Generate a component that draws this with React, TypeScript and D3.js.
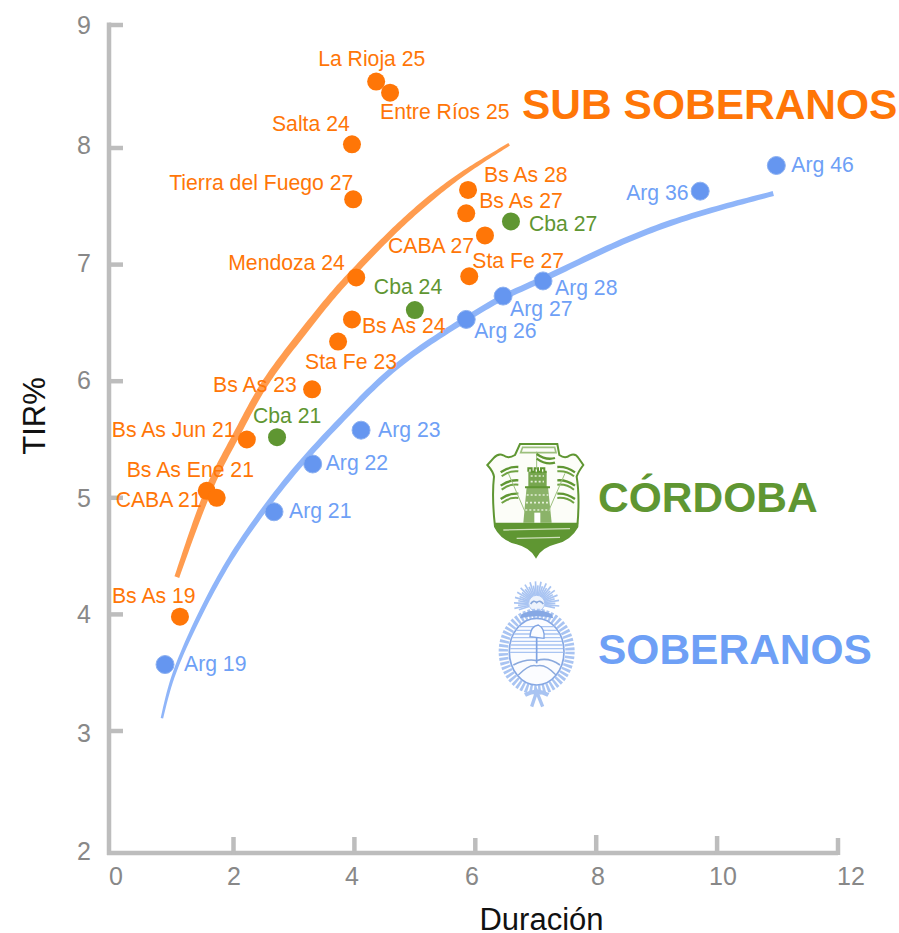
import React, { useEffect, useRef } from "react";
import * as d3 from "d3";

const xTicks = [0, 2, 4, 6, 8, 10, 12];
const yTicks = [2, 3, 4, 5, 6, 7, 8, 9];
// tick labels sit a little away from their ticks in the original
const xLabelCenters = [116, 234, 352, 472, 598, 723, 851];
const yLabelCenters = [851, 733, 614, 498, 380, 263, 145, 25];
const xTickHeights = [0, 16, 16, 15, 18, 17, 15];

const subNames = ["La Rioja 25", "Entre Ríos 25", "Salta 24", "Tierra del Fuego 27", "Bs As 28", "Bs As 27", "CABA 27", "Sta Fe 27", "Mendoza 24", "Bs As 24", "Sta Fe 23", "Bs As 23", "Bs As Jun 21", "Bs As Ene 21", "CABA 21", "Bs As 19"];
const subX = [4.36, 4.59, 3.96, 3.98, 5.88, 5.85, 6.16, 5.9, 4.03, 3.96, 3.73, 3.3, 2.22, 1.57, 1.73, 1.14];
const subY = [8.54, 8.45, 8.03, 7.56, 7.64, 7.44, 7.25, 6.9, 6.89, 6.53, 6.34, 5.93, 5.5, 5.06, 5.0, 3.98];

const cbaNames = ["Cba 27", "Cba 24", "Cba 21"];
const cbaX = [6.59, 5.0, 2.72];
const cbaY = [7.37, 6.61, 5.52];

const argNames = ["Arg 46", "Arg 36", "Arg 28", "Arg 27", "Arg 26", "Arg 23", "Arg 22", "Arg 21", "Arg 19"];
const argX = [10.98, 9.72, 7.12, 6.46, 5.85, 4.11, 3.31, 2.67, 0.9];
const argY = [7.85, 7.63, 6.86, 6.73, 6.53, 5.58, 5.29, 4.88, 3.57];

const subCurveX = [1.09, 1.46, 1.735, 2.07, 2.49, 3.05, 3.6, 4.01, 4.7, 5.25, 5.8, 6.56];
const subCurveY = [4.32, 4.895, 5.24, 5.555, 5.985, 6.355, 6.72, 6.95, 7.32, 7.57, 7.79, 8.03];
const argCurveX = [0.85, 0.98, 1.19, 1.51, 1.945, 2.49, 3.1, 3.93, 4.7, 5.86, 6.46, 7.12, 8.28, 9.39, 10.93];
const argCurveY = [3.11, 3.41, 3.695, 4.06, 4.49, 4.895, 5.3, 5.75, 6.16, 6.54, 6.73, 6.87, 7.17, 7.4, 7.61];

// label placement (offset of text start and baseline from the point)
const subOffsets = [[-58, -16], [-10, 26], [-80, -13], [-184, -9], [16, -8], [13, -5], [-97, 18], [3, -8], [-128, -7], [10, 14], [-33, 27], [-99, 3], [-135, -3], [-80, -14], [-101, 9], [-68, -14]];
const cbaOffsets = [[18, 10], [-41, -16], [-24, -14]];
const argOffsets = [[15, 7], [-74, 9], [12, 14], [7, 20], [8, 19], [17, 7], [13, 6], [15, 6], [19, 6]];

const ORANGE = "#ff7607";
const ORANGE_LINE = "#ff9c4f";
const GREEN = "#5f9632";
const BLUE = "#6ea0f6";
const BLUE_DOT = "#6596f0";
const BLUE_LINE = "#8fb5f9";
const GREEN_L = "#9cc07d";
const BLUE_L = "#a9c4f2";
const FONT = "'Liberation Sans', Arial, sans-serif";

const xScale = d3.scaleLinear().domain([0, 2, 12]).range([109, 233.5, 838]);
const yScale = d3.scaleLinear().domain([2, 3, 8, 9]).range([853, 731, 148, 25]);

function Ribbon({ xs, ys, widths, color }: { xs: number[]; ys: number[]; widths: number[]; color: string }) {
  const ref = useRef<SVGPathElement>(null);
  useEffect(() => {
    const pts = xs.map((x, i) => [xScale(x), yScale(ys[i])] as [number, number]);
    const d = d3.line().curve(d3.curveBasis)(pts) as string;
    const probe = document.createElementNS("http://www.w3.org/2000/svg", "path");
    probe.setAttribute("d", d);
    const len = probe.getTotalLength();
    const wScale = d3.scaleLinear().domain(widths.map((_, i) => i / (widths.length - 1))).range(widths);
    const left: [number, number][] = [];
    const right: [number, number][] = [];
    const n = 160;
    d3.range(n + 1).forEach((i) => {
      const t = i / n;
      const p = probe.getPointAtLength(t * len);
      const a = probe.getPointAtLength(Math.max(0, t * len - 1));
      const b = probe.getPointAtLength(Math.min(len, t * len + 1));
      const dx = b.x - a.x, dy = b.y - a.y, m = Math.hypot(dx, dy) || 1;
      const w = wScale(t) / 2;
      left.push([p.x - (dy / m) * w, p.y + (dx / m) * w]);
      right.push([p.x + (dy / m) * w, p.y - (dx / m) * w]);
    });
    const poly = d3.line()([...left, ...right.reverse()]) + "Z";
    d3.select(ref.current).attr("d", poly);
  }, []);
  return <path ref={ref} fill={color} />;
}

function Series({ names, xs, ys, offsets, dot, text, halo }: any) {
  return (
    <g>
      {names.map((_: string, i: number) => (
        <circle key={i} cx={xScale(xs[i])} cy={yScale(ys[i])} r={9} fill={dot} stroke={halo} strokeWidth={halo ? 1 : 0} filter={halo ? "url(#dotblur)" : undefined} />
      ))}
      {names.map((n: string, i: number) => (
        <text key={n} x={xScale(xs[i]) + offsets[i][0]} y={yScale(ys[i]) + offsets[i][1]} fill={text} fontSize={21.2} fontFamily={FONT}>{n}</text>
      ))}
    </g>
  );
}

function CordobaLogo() {
  const outline = "M150,42 L262,42 L268,75 Q285,88 300,76 Q316,68 326,85 L340,105 Q325,125 320,140 Q330,200 322,290 Q300,330 255,340 Q215,350 198,380 Q180,350 140,340 Q95,330 75,290 Q65,200 72,140 Q70,125 52,105 L70,85 Q85,68 100,76 Q115,88 135,75 Z";
  const flagsY = [115, 155, 195];
  return (
    <g transform="translate(470,430) scale(0.3333)" filter="url(#soft)">
      <path d={outline} fill="#fcfdf8" stroke={GREEN} strokeWidth={6} />
      <path d="M158,52 L254,52 L258,68 L152,68 Z" fill="none" stroke={GREEN_L} strokeWidth={5} />
      <path d="M72,278 L325,278 L322,292 Q300,330 255,340 Q215,350 198,380 Q180,350 140,340 Q95,330 75,292 Z" fill={GREEN} />
      <path d="M100,300 L300,296 M140,325 L270,322" stroke="#cfe0bb" strokeWidth={4} fill="none" />
      <path d="M160,278 L170,170 L234,170 L245,278 Z" fill={GREEN} opacity={0.72} />
      <rect x={175} y={125} width={55} height={48} fill={GREEN} opacity={0.85} />
      <path d="M175,125 v-10 h10 v10 h9 v-10 h10 v10 h9 v-10 h10 v10 h7 M165,172 h75" stroke={GREEN} strokeWidth={6} fill="none" />
      <path d="M170,195 h65 M168,218 h70 M166,240 h74 M182,138 h40 M182,155 h40" stroke="#e4efd8" strokeWidth={5} strokeDasharray="6 6" />
      <rect x={193} y={248} width={18} height={30} fill="#fff" />
      <path d="M200,118 V65" stroke={GREEN_L} strokeWidth={3} />
      <path d="M200,72 Q228,92 255,84" stroke={GREEN} strokeWidth={7} fill="none" />
      <path d="M200,86 Q228,106 255,98" stroke={GREEN} strokeWidth={7} fill="none" />
      {flagsY.map((y) => (
        <g key={y}>
          <path d={`M92,${y + 12} Q118,${y - 6} 145,${y - 4}`} stroke={GREEN} strokeWidth={7} fill="none" />
          <path d={`M95,${y + 24} Q118,${y + 6} 145,${y + 9}`} stroke="#6fa243" strokeWidth={6} fill="none" />
          <path d={`M262,${y - 4} Q290,${y - 6} 315,${y + 12}`} stroke={GREEN} strokeWidth={7} fill="none" />
          <path d={`M262,${y + 9} Q290,${y + 6} 312,${y + 24}`} stroke="#6fa243" strokeWidth={6} fill="none" />
        </g>
      ))}
      <path d="M165,245 L115,130 M235,245 L285,130" stroke={GREEN_L} strokeWidth={3} />
    </g>
  );
}

function ArgentinaLogo() {
  const rays = d3.range(-108, 109, 7);
  const stripes = d3.range(590, 668, 11);
  return (
    <g transform="translate(470,430) scale(0.3333)" filter="url(#soft)">
      {rays.map((a, i) => {
        const r = (a * Math.PI) / 180;
        const len = i % 2 ? 68 : 56;
        return <line key={a} x1={200 + Math.sin(r) * 24} y1={522 - Math.cos(r) * 24} x2={200 + Math.sin(r) * len} y2={522 - Math.cos(r) * len} stroke={BLUE_L} strokeWidth={5} />;
      })}
      <circle cx={200} cy={520} r={24} fill="#eef3fc" stroke={BLUE_L} strokeWidth={3} />
      <path d="M182,522 Q190,508 200,518 Q210,508 220,522" stroke="#8aa9dd" strokeWidth={5} fill="none" />
      <ellipse cx={200} cy={665} rx={100} ry={115} fill="none" stroke={BLUE_L} strokeWidth={28} strokeDasharray="8 5" />
      <ellipse cx={200} cy={665} rx={82} ry={100} fill="#fbfcff" stroke="#86a8e4" strokeWidth={5} />
      {stripes.map((y) => {
        const h = Math.sqrt(Math.max(0, 1 - ((y - 665) / 100) ** 2)) * 80;
        return <line key={y} x1={200 - h} x2={200 + h} y1={y} y2={y} stroke={BLUE_L} strokeWidth={4} />;
      })}
      <path d="M130,705 Q170,685 200,692 Q235,680 270,705" stroke="#8aa9dd" strokeWidth={5} fill="none" />
      <path d="M145,735 Q180,700 200,708 Q225,700 258,735" stroke="#8aa9dd" strokeWidth={4} fill="none" />
      <path d="M200,620 V700" stroke="#7fa3e2" strokeWidth={5} />
      <path d="M180,620 Q182,588 205,585 Q225,595 222,625 Z" fill="#fbfcff" stroke="#7fa3e2" strokeWidth={4} />
      <path d="M155,552 Q200,530 245,552 L250,565 Q200,552 150,565 Z" fill="#86a8e4" />
      <path d="M165,795 Q200,775 235,795" stroke={BLUE_L} strokeWidth={12} fill="none" />
      <path d="M185,830 L200,785 L218,830" stroke={BLUE_L} strokeWidth={10} fill="none" />
    </g>
  );
}

export default function App() {
  const axis = "#bdbdbd";
  const tick = "#888888";
  return (
    <svg width={899} height={933} style={{ position: "absolute", left: 0, top: 0 }}>
      <defs>
        <filter id="soft" x="-10%" y="-10%" width="120%" height="120%"><feGaussianBlur stdDeviation={1.6} /></filter>
        <filter id="dotblur" x="-20%" y="-20%" width="140%" height="140%"><feGaussianBlur stdDeviation={0.7} /></filter>
      </defs>
      <rect width={899} height={933} fill="#fff" />
      <line x1={109} x2={109} y1={yScale(9) - 2.5} y2={yScale(2) + 2} stroke={axis} strokeWidth={4.5} />
      <line x1={107} x2={xScale(12)} y1={yScale(2)} y2={yScale(2)} stroke={axis} strokeWidth={4.5} />
      {yTicks.filter((v) => v > 2).map((v) => (
        <line key={v} x1={109} x2={123} y1={yScale(v)} y2={yScale(v)} stroke={axis} strokeWidth={4.5} />
      ))}
      {xTicks.filter((v) => v > 0).map((v, i) => (
        <line key={v} x1={xScale(v)} x2={xScale(v)} y1={yScale(2) - xTickHeights[i + 1]} y2={yScale(2) + 2} stroke={axis} strokeWidth={4.5} />
      ))}
      {yTicks.map((v, i) => (
        <text key={v} x={91} y={yLabelCenters[i] + 9} textAnchor="end" fontSize={25} fontFamily={FONT} fill={tick}>{v}</text>
      ))}
      {xTicks.map((v, i) => (
        <text key={v} x={xLabelCenters[i]} y={885} textAnchor="middle" fontSize={25} fontFamily={FONT} fill={tick}>{v}</text>
      ))}
      <text x={541.5} y={930} textAnchor="middle" fontSize={31} fontFamily={FONT} fill="#111">Duración</text>
      <text transform="translate(44.5,416) rotate(-90)" textAnchor="middle" fontSize={31} fontFamily={FONT} fill="#111">TIR%</text>

      <Ribbon xs={subCurveX} ys={subCurveY} widths={[5, 7, 7, 7, 6.5, 6, 3]} color={ORANGE_LINE} />
      <Ribbon xs={argCurveX} ys={argCurveY} widths={[2.5, 4.5, 5.5, 6, 6, 6, 6, 6, 5]} color={BLUE_LINE} />

      <Series names={subNames} xs={subX} ys={subY} offsets={subOffsets} dot={ORANGE} text={ORANGE} />
      <Series names={cbaNames} xs={cbaX} ys={cbaY} offsets={cbaOffsets} dot={GREEN} text={GREEN} />
      <Series names={argNames} xs={argX} ys={argY} offsets={argOffsets} dot={BLUE_DOT} text={BLUE} halo="#8cb0f0" />

      <text x={522} y={119} fontSize={42.5} fontWeight={700} fontFamily={FONT} fill={ORANGE}>SUB SOBERANOS</text>
      <text x={598} y={512} fontSize={42.5} fontWeight={700} fontFamily={FONT} fill={GREEN}>CÓRDOBA</text>
      <text x={598} y={664} fontSize={42.5} fontWeight={700} fontFamily={FONT} fill={BLUE}>SOBERANOS</text>

      <CordobaLogo />
      <ArgentinaLogo />
    </svg>
  );
}
